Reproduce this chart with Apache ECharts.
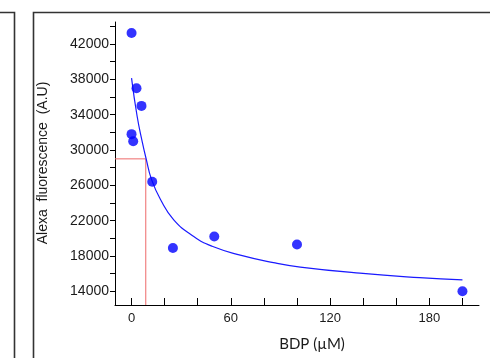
<!DOCTYPE html>
<html>
<head>
<meta charset="utf-8">
<script src="https://cdn.jsdelivr.net/npm/echarts@6/dist/echarts.min.js"></script>
<style>
html,body{margin:0;padding:0;background:#fff;}
#chart{width:490px;height:358px;}
</style>
</head>
<body>
<div id="chart"></div>
<script>
// Measured data points: BDP concentration (µM) vs Alexa fluorescence
const pointX = [0, 3, 6, 0, 1, 12.5, 25, 50, 100, 200];
const pointY = [43250, 37000, 35000, 31800, 31000, 26400, 18900, 20200, 19300, 14000];

// Fitted curve
const curveX = [0, 3.4, 6.5, 8.9, 12.1, 17.5, 25.5, 37.6, 48.7, 65.7, 85.8, 102, 138, 174, 200];
const curveY = [38150, 33800, 30900, 28950, 26650, 24400, 22100, 20200, 19100, 18100, 17250, 16750, 16050, 15550, 15300];

// Half-maximum guide (red)
const guideX = [-10, 8.6, 8.6];
const guideY = [29000, 29000, 12450];

// Axis ticks and labels
const xTicks = [0, 20, 40, 60, 80, 100, 120, 140, 160, 180, 200];
const xLabels = [0, 60, 120, 180];
const yTicks = [14000, 16000, 18000, 20000, 22000, 24000, 26000, 28000, 30000, 32000, 34000, 36000, 38000, 40000, 42000, 44000];
const yLabels = [14000, 18000, 22000, 26000, 30000, 34000, 38000, 42000];

const zip = (a, b) => a.map((v, i) => [v, b[i]]);

const chart = echarts.init(document.getElementById('chart'), null, {renderer: 'canvas'});
chart.setOption({
  animation: false,
  backgroundColor: '#ffffff',
  grid: {left: 115, top: 22, right: 11, bottom: 53, containLabel: false},
  xAxis: {
    type: 'value', min: -10, max: 210,
    splitLine: {show: false},
    axisLine: {show: true, onZero: false, lineStyle: {color: '#000', width: 1}},
    axisTick: {show: true, inside: true, length: 7, customValues: xTicks, lineStyle: {color: '#000', width: 1}},
    axisLabel: {show: true, customValues: xLabels, fontSize: 13, margin: 7, color: '#1a1a1a',
      fontFamily: 'Liberation Sans, Arial, sans-serif', formatter: v => String(v)}
  },
  yAxis: {
    type: 'value', min: 12450, max: 44500,
    splitLine: {show: false},
    axisLine: {show: true, onZero: false, lineStyle: {color: '#000', width: 1}},
    axisTick: {show: true, inside: false, length: 5, customValues: yTicks, lineStyle: {color: '#000', width: 1}},
    axisLabel: {show: true, customValues: yLabels, fontSize: 14, margin: 6, color: '#1a1a1a',
      fontFamily: 'Liberation Sans, Arial, sans-serif', formatter: v => String(v)}
  },
  series: [
    {
      type: 'line', data: zip(guideX, guideY), symbol: 'none',
      lineStyle: {color: '#ee6a6a', width: 1}, z: 1, silent: true
    },
    {
      type: 'line', data: zip(curveX, curveY), symbol: 'none', smooth: 0.5,
      lineStyle: {color: '#1a1aff', width: 1.2}, z: 2, silent: true
    },
    {
      type: 'scatter', data: zip(pointX, pointY), symbol: 'circle', symbolSize: 10,
      itemStyle: {color: '#0000ff'}, z: 3
    }
  ],
  graphic: [
    {type: 'polyline', shape: {points: [[0, 12.5], [14.5, 12.5], [14.5, 360]]}, style: {stroke: '#333', lineWidth: 1.6, fill: null}},
    {type: 'rect', shape: {x: 33.5, y: 12.5, width: 500, height: 400}, style: {stroke: '#333', lineWidth: 1.6, fill: null}},
    {type: 'text', x: 43, y: 163, rotation: Math.PI / 2,
      style: {text: 'Alexa  fluorescence  (A.U)', fontSize: 14, fill: '#1a1a1a', fontFamily: 'Liberation Sans, Arial, sans-serif', align: 'center', verticalAlign: 'middle'}},
    {type: 'text', x: 312, y: 344,
      style: {text: 'BDP (µM)', fontSize: 15, fill: '#1a1a1a', fontFamily: 'Lato, sans-serif', align: 'center', verticalAlign: 'middle'}}
  ]
});
</script>
</body>
</html>
